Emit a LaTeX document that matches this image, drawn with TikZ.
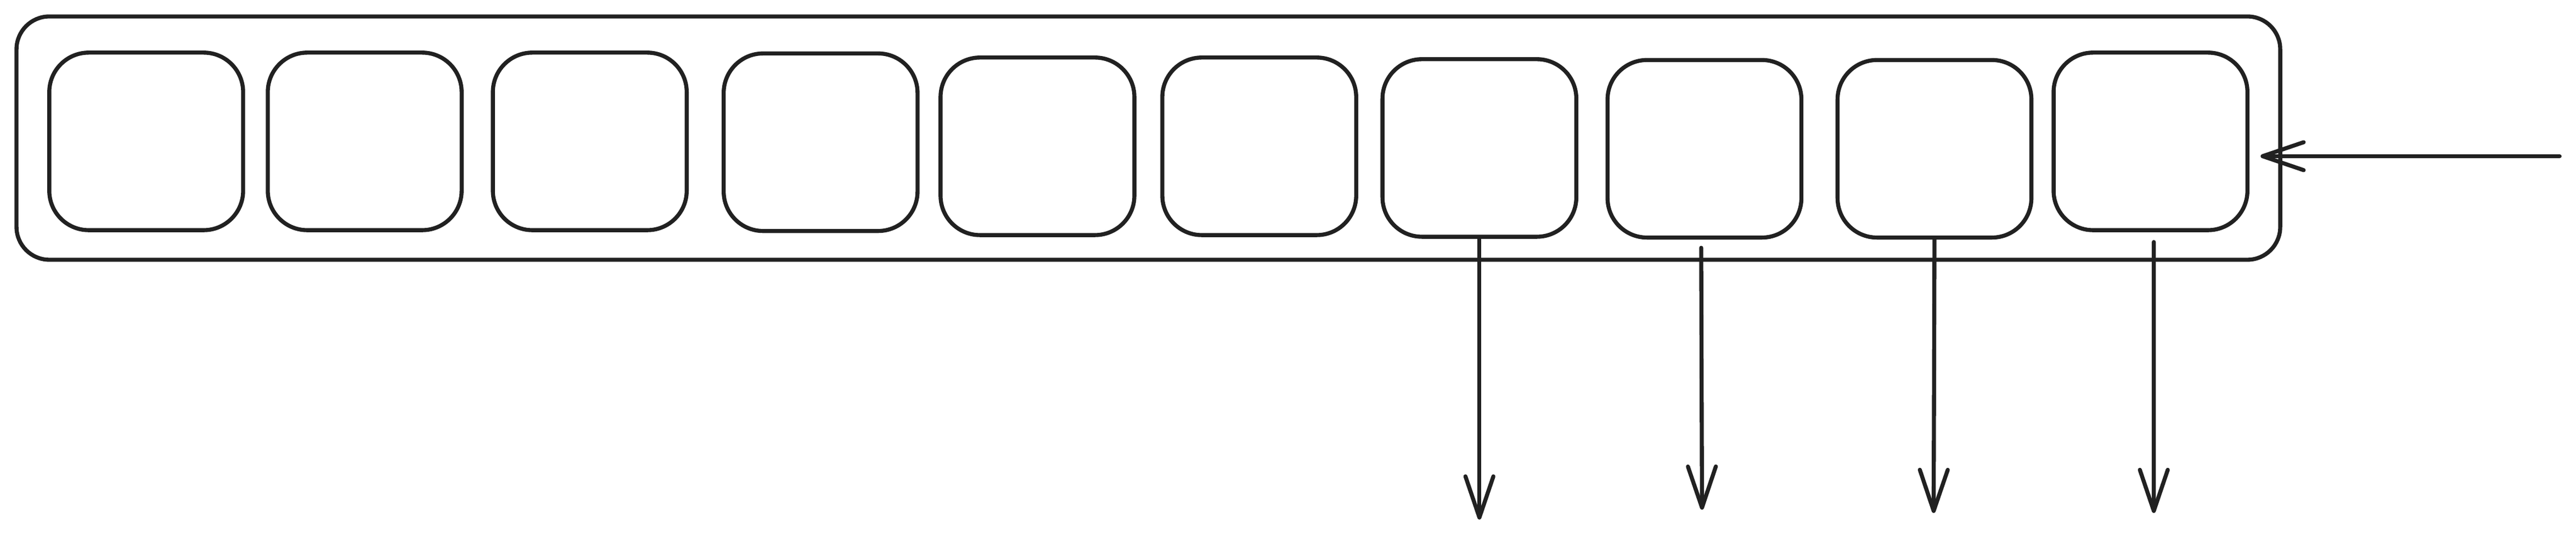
\documentclass[tikz,border=0pt]{standalone}
\usetikzlibrary{arrows.meta}
\begin{document}
\begin{tikzpicture}[x=0.1cm,y=-0.1cm,
  line width=7pt, draw=black!87,
  outerbox/.style={draw=black!87, line width=7pt, rounded corners=2cm, minimum width=137.8cm, minimum height=14.8cm, inner sep=0pt},
  cell/.style={draw=black!87, line width=7pt, rounded corners=2.4cm, minimum width=11.8cm, minimum height=10.8cm, inner sep=0pt},
  arr/.style={draw=black!87, line width=7pt, line cap=round, -{Straight Barb[length=2.5cm, width=1.7cm, line width=7pt, round]}}]
\useasboundingbox (0,0) rectangle (1568,326);
\node[outerbox] (outer) at (699,84) {};
\node[cell] (c1) at (89,86) {};
\node[cell] (c2) at (222,86) {};
\node[cell] (c3) at (359,86) {};
\node[cell] (c4) at (499.5,86.5) {};
\node[cell] (c5) at (631.5,89) {};
\node[cell] (c6) at (766.5,89) {};
\node[cell] (c7) at (900.5,90) {};
\node[cell] (c8) at (1037.5,90.5) {};
\node[cell] (c9) at (1177.5,90.5) {};
\node[cell] (c10) at (1309,86) {};
\coordinate (o7) at (900.5,316);
\coordinate (o8) at (1036,310);
\coordinate (o9) at (1177,312);
\coordinate (o10) at (1311,312);
\coordinate (in) at (1558,95);
\coordinate (inend) at (1376,95);
\draw[arr] (c7.south) -- (o7);
\draw[arr] ([yshift=-0.5cm,xshift=-0.2cm]c8.south) -- (o8);
\draw[arr] (c9.south) -- (o9);
\draw[arr] ([yshift=-0.6cm,xshift=0.2cm]c10.south) -- (o10);
\draw[arr] (in) -- (inend);
\end{tikzpicture}
\end{document}
